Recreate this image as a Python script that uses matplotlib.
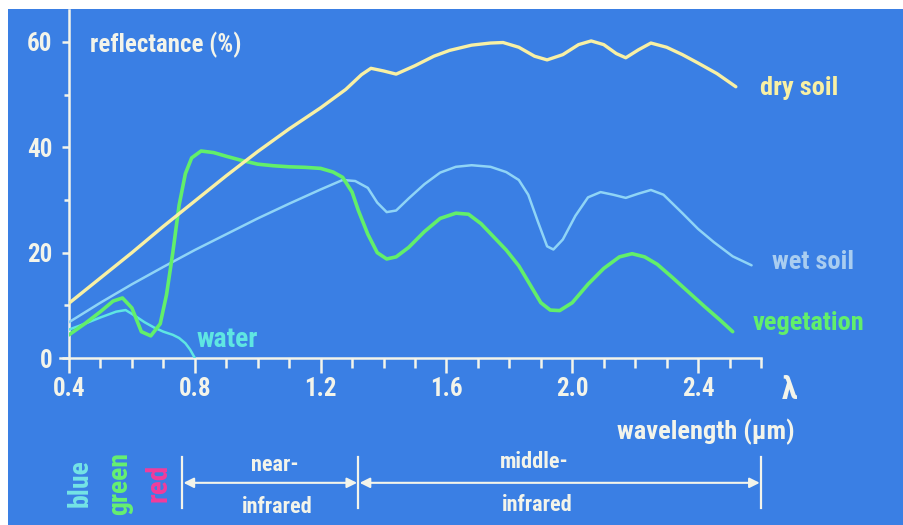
import matplotlib
matplotlib.use('Agg')
import matplotlib.pyplot as plt
from matplotlib.ticker import FixedLocator, MultipleLocator

# ---------------- data ----------------
dry_x = [0.40, 0.50, 0.60, 0.70, 0.80, 0.90, 1.00, 1.10, 1.20, 1.28, 1.33, 1.36, 1.40, 1.44,
         1.50, 1.56, 1.61, 1.68, 1.74, 1.78, 1.83, 1.88, 1.92, 1.97, 2.02, 2.06, 2.10, 2.14,
         2.17, 2.21, 2.25, 2.30, 2.35, 2.40, 2.46, 2.52]
dry_y = [10.4, 15.2, 20.0, 25.0, 29.8, 34.6, 39.2, 43.5, 47.5, 51.0, 53.8, 55.0, 54.5, 53.9,
         55.5, 57.3, 58.4, 59.4, 59.8, 59.9, 59.0, 57.3, 56.6, 57.6, 59.5, 60.2, 59.5, 57.8,
         57.0, 58.5, 59.8, 59.0, 57.6, 56.0, 54.0, 51.5]

veg_x = [0.40, 0.45, 0.50, 0.54, 0.57, 0.60, 0.63, 0.66, 0.69, 0.71, 0.73, 0.75, 0.77, 0.79,
         0.82, 0.86, 0.90, 0.95, 1.00, 1.05, 1.10, 1.15, 1.20, 1.24, 1.27, 1.30, 1.32, 1.35,
         1.38, 1.41, 1.44, 1.48, 1.53, 1.58, 1.63, 1.67, 1.71, 1.75, 1.79, 1.83, 1.87, 1.90,
         1.93, 1.96, 2.00, 2.05, 2.10, 2.15, 2.19, 2.23, 2.27, 2.32, 2.37, 2.42, 2.47, 2.51]
veg_y = [4.4, 6.5, 8.8, 10.8, 11.4, 9.5, 5.0, 4.2, 6.5, 12.0, 20.0, 29.0, 35.0, 38.0,
         39.3, 39.0, 38.3, 37.5, 36.8, 36.5, 36.3, 36.2, 36.0, 35.3, 34.3, 31.5, 28.0, 23.5,
         20.0, 18.8, 19.2, 21.0, 24.0, 26.5, 27.5, 27.3, 25.5, 23.0, 20.5, 17.5, 13.5, 10.5,
         9.1, 9.0, 10.5, 14.0, 17.0, 19.2, 19.8, 19.2, 17.8, 15.2, 12.5, 9.8, 7.2, 5.0]

wet_x = [0.40, 0.50, 0.60, 0.70, 0.80, 0.90, 1.00, 1.10, 1.20, 1.27, 1.31, 1.35, 1.38, 1.41,
         1.44, 1.48, 1.53, 1.58, 1.63, 1.68, 1.74, 1.79, 1.83, 1.86, 1.89, 1.92, 1.94, 1.97,
         2.01, 2.05, 2.09, 2.13, 2.17, 2.21, 2.25, 2.29, 2.35, 2.40, 2.45, 2.51, 2.57]
wet_y = [6.8, 10.5, 14.0, 17.3, 20.5, 23.5, 26.5, 29.3, 32.0, 33.8, 33.6, 32.3, 29.5, 27.7,
         28.0, 30.3, 33.0, 35.2, 36.3, 36.6, 36.3, 35.3, 33.8, 31.0, 26.0, 21.2, 20.6, 22.5,
         27.0, 30.5, 31.5, 31.0, 30.4, 31.2, 31.9, 31.0, 27.5, 24.5, 22.0, 19.3, 17.6]

water_x = [0.40, 0.45, 0.50, 0.55, 0.58, 0.61, 0.64, 0.67, 0.70, 0.73, 0.75, 0.77, 0.785, 0.80]
water_y = [5.4, 6.5, 7.7, 8.8, 9.1, 8.0, 6.8, 5.8, 5.0, 4.4, 3.8, 2.8, 1.6, 0.0]

x_major = [0.4, 0.8, 1.2, 1.6, 2.0, 2.4]
x_labels = ['0.4', '0.8', '1.2', '1.6', '2.0', '2.4']
y_major = [0, 20, 40, 60]
y_labels = ['0', '20', '40', '60']

band_names = ['blue', 'green', 'red']
band_pos = [0.435, 0.56, 0.683]
region_edges = [0.76, 1.32, 2.60]
region_top = ['near-', 'middle-']
region_bottom = ['infrared', 'infrared']

# ---------------- style ----------------
BG = '#3a7fe4'
WHITE = '#f3f4ea'
C_DRY = '#f8f0a4'
C_WET = '#8fd4f6'
C_VEG = '#62ef6a'
C_WATER = '#5fe6e2'
C_WETLBL = '#a9cdf0'
C_BLUE = '#74e4e6'
C_GREEN = '#66f070'
C_RED = '#f23c9c'

FONT = ['Roboto Condensed', 'Open Sans Condensed', 'DejaVu Sans Condensed',
        'Liberation Sans', 'DejaVu Sans']
plt.rcParams['font.family'] = FONT
plt.rcParams['font.weight'] = 'bold'

W, H = 904, 525
fig = plt.figure(figsize=(W / 100, H / 100), dpi=100, facecolor='white')

bg = fig.add_axes([8 / W, 0, (W - 8) / W, (H - 9) / H], zorder=0)
bg.set_facecolor(BG)
bg.set_xticks([])
bg.set_yticks([])
for s in bg.spines.values():
    s.set_visible(False)

ymax = 66
ppu = 5.267
ax = fig.add_axes([69 / W, 167 / H, 692 / W, ymax * ppu / H], zorder=1)
ax.set_facecolor('none')
ax.set_xlim(0.4, 2.6)
ax.set_ylim(0, ymax)

ax.plot(water_x, water_y, color=C_WATER, lw=1.8, solid_capstyle='round', zorder=3)
ax.plot(wet_x, wet_y, color=C_WET, lw=1.8, solid_capstyle='round', zorder=4)
ax.plot(veg_x, veg_y, color=C_VEG, lw=2.6, solid_capstyle='round', zorder=5)
ax.plot(dry_x, dry_y, color=C_DRY, lw=2.4, solid_capstyle='round', zorder=6)

for side in ['top', 'right']:
    ax.spines[side].set_visible(False)
ax.spines['left'].set_color(WHITE)
ax.spines['bottom'].set_color(WHITE)
ax.spines['left'].set_linewidth(1.8)
ax.spines['bottom'].set_linewidth(1.8)
ax.spines['bottom'].set_bounds(0.37, 2.6)

ax.xaxis.set_major_locator(FixedLocator(x_major))
ax.set_xticklabels(x_labels)
ax.xaxis.set_minor_locator(MultipleLocator(0.1))
ax.yaxis.set_major_locator(FixedLocator(y_major))
ax.set_yticklabels(y_labels)
ax.yaxis.set_minor_locator(FixedLocator([10, 30, 50]))

ax.tick_params(axis='x', which='major', direction='out', length=11, width=1.8,
               colors=WHITE, labelsize=18, pad=3)
ax.tick_params(axis='x', which='minor', direction='out', length=7, width=1.8, colors=WHITE)
ax.tick_params(axis='y', which='major', direction='out', length=5, width=1.8,
               colors=WHITE, labelsize=18, pad=7)
ax.tick_params(axis='y', which='minor', direction='out', length=3.5, width=1.8, colors=WHITE)

kw = dict(clip_on=False, fontweight='bold')
ax.text(0.467, 59.4, 'reflectance (%)', color=WHITE, fontsize=18, ha='left', va='center', **kw)
ax.text(2.597, 51.3, 'dry soil', color=C_DRY, fontsize=19, ha='left', va='center', **kw)
ax.text(2.635, 18.2, 'wet soil', color=C_WETLBL, fontsize=19, ha='left', va='center', **kw)
ax.text(2.572, 6.6, 'vegetation', color=C_VEG, fontsize=19, ha='left', va='center', **kw)
ax.text(0.807, 3.6, 'water', color=C_WATER, fontsize=20, ha='left', va='center', **kw)
ax.text(2.69, -6.1, 'λ', color=WHITE, fontsize=23, ha='center', va='center', **kw)
ax.text(2.708, -14.0, 'wavelength (µm)', color=WHITE, fontsize=19, ha='right', va='center', **kw)

band_cols = [C_BLUE, C_GREEN, C_RED]
band_sizes = [20, 20, 21]
for name, xp, col, fs in zip(band_names, band_pos, band_cols, band_sizes):
    ax.text(xp, -23.8, name, color=col, fontsize=fs, rotation=90, ha='center', va='center', **kw)

ybar0, ybar1, yarr = -18.8, -28.5, -23.7
for xe in region_edges:
    ax.plot([xe, xe], [ybar0, ybar1], color=WHITE, lw=1.6, clip_on=False)
for i in range(2):
    x0, x1 = region_edges[i], region_edges[i + 1]
    ax.annotate('', xy=(x0 + 0.004, yarr), xytext=(x1 - 0.004, yarr),
                arrowprops=dict(arrowstyle='<|-|>', color=WHITE, lw=1.5,
                                mutation_scale=15, shrinkA=0, shrinkB=0),
                annotation_clip=False)
ax.text(1.055, -20.3, region_top[0], color=WHITE, fontsize=16, ha='center', va='center', **kw)
ax.text(1.061, -28.2, region_bottom[0], color=WHITE, fontsize=16, ha='center', va='center', **kw)
ax.text(1.88, -19.8, region_top[1], color=WHITE, fontsize=16, ha='center', va='center', **kw)
ax.text(1.888, -28.0, region_bottom[1], color=WHITE, fontsize=16, ha='center', va='center', **kw)

fig.savefig('out.png', dpi=100, facecolor='white')
